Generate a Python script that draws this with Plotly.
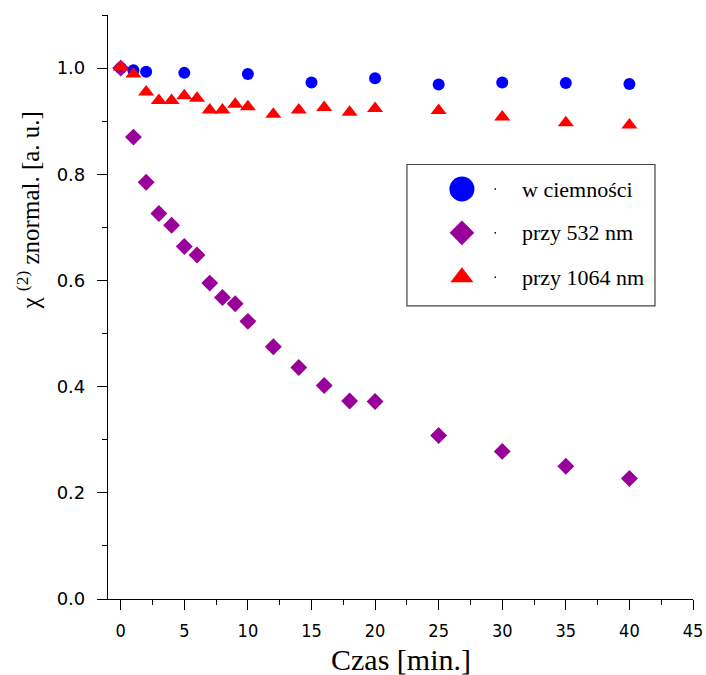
import plotly.graph_objects as go

# Czas pomiaru [min]
t_dark = [0, 1, 2, 5, 10, 15, 20, 25, 30, 35, 40]
chi_dark = [1.000, 0.996, 0.993, 0.991, 0.989, 0.973, 0.981, 0.969, 0.973, 0.972, 0.970]

t_532 = [0, 1, 2, 3, 4, 5, 6, 7, 8, 9, 10, 12, 14, 16, 18, 20, 25, 30, 35, 40]
chi_532 = [1.000, 0.870, 0.785, 0.726, 0.704, 0.664, 0.648, 0.595, 0.568, 0.556,
           0.523, 0.475, 0.436, 0.402, 0.373, 0.372, 0.308, 0.278, 0.250, 0.227]

t_1064 = [0, 1, 2, 3, 4, 5, 6, 7, 8, 9, 10, 12, 14, 16, 18, 20, 25, 30, 35, 40]
chi_1064 = [1.002, 0.989, 0.955, 0.939, 0.939, 0.948, 0.943, 0.921, 0.921, 0.932,
            0.927, 0.913, 0.921, 0.926, 0.917, 0.924, 0.920, 0.908, 0.897, 0.893]

labels = ["w ciemności", "przy 532 nm", "przy 1064 nm"]
colors = ["#0000FF", "#990099", "#FF0000"]
symbols = ["circle", "diamond", "triangle-up"]
data_sizes = [12, 13, 14]
key_sizes = [25, 19, 20]

x_ticks = [0, 5, 10, 15, 20, 25, 30, 35, 40, 45]
y_ticks = [0.0, 0.2, 0.4, 0.6, 0.8, 1.0]

x_title = "Czas [min.]"
y_title = "χ <sup>(2)</sup> znormal. [a. u.]"

serif = "Liberation Serif, Times New Roman, serif"

fig = go.Figure()

series = [(t_dark, chi_dark), (t_532, chi_532), (t_1064, chi_1064)]
for (xs, ys), name, col, sym, sz in zip(series, labels, colors, symbols, data_sizes):
    fig.add_trace(go.Scatter(
        x=xs, y=ys, mode="markers", name=name, showlegend=False,
        marker=dict(symbol=sym, size=sz, color=col, line=dict(width=0)),
    ))

# Legend key drawn on an overlay axis spanning the plot area (0..1 fractions)
key_x = 0.605
key_text_x = 0.705
key_y = [0.702, 0.627, 0.551]
for name, col, sym, sz, ky in zip(labels, colors, symbols, key_sizes, key_y):
    fig.add_trace(go.Scatter(
        x=[key_x], y=[ky], mode="markers", showlegend=False, hoverinfo="skip",
        marker=dict(symbol=sym, size=sz, color=col, line=dict(width=0)),
        xaxis="x2", yaxis="y2",
    ))
    fig.add_trace(go.Scatter(
        x=[0.662], y=[ky], mode="markers", showlegend=False, hoverinfo="skip",
        marker=dict(symbol="square", size=1.5, color="#000000", line=dict(width=0)),
        xaxis="x2", yaxis="y2",
    ))
    fig.add_annotation(
        x=key_text_x, y=ky, xref="x2", yref="y2", text=name, showarrow=False,
        xanchor="left", yanchor="middle",
        font=dict(family=serif, size=22, color="#000000"),
    )

fig.add_shape(
    type="rect", xref="x2", yref="y2", x0=0.511, x1=0.935, y0=0.502, y1=0.744,
    line=dict(color="#444444", width=1.2), fillcolor="rgba(0,0,0,0)", layer="above",
)

# Axis titles
fig.add_annotation(
    x=0.5, y=-0.104, xref="paper", yref="paper", text=x_title, showarrow=False,
    xanchor="center", yanchor="middle",
    font=dict(family=serif, size=30, color="#000000"),
)
fig.add_annotation(
    x=-0.137, y=0.665, xref="paper", yref="paper", text=y_title, showarrow=False,
    textangle=-90, xanchor="center", yanchor="middle",
    font=dict(family=serif, size=25, color="#000000"),
)

fig.update_layout(
    width=706, height=675,
    margin=dict(l=108, r=13, t=15, b=76, autoexpand=False),
    plot_bgcolor="white", paper_bgcolor="white",
    xaxis=dict(
        range=[-1, 45], tickvals=x_ticks, ticktext=[str(v) for v in x_ticks],
        automargin=False,
        showgrid=False, zeroline=False, showline=True, linecolor="#000000", linewidth=1.2,
        ticks="outside", ticklen=10, tickwidth=1.2, tickcolor="#000000",
        minor=dict(dtick=2.5, tick0=0, ticks="outside", ticklen=5, tickwidth=1.2, tickcolor="#000000"),
        tickfont=dict(family="DejaVu Sans Condensed, Liberation Sans Narrow, DejaVu Sans", size=18, color="#000000"),
        ticklabelstandoff=5, ticklabeloverflow="allow",
    ),
    yaxis=dict(
        range=[0, 1.1], tickvals=y_ticks, ticktext=[f"{v:.1f}" for v in y_ticks],
        automargin=False,
        showgrid=False, zeroline=False, showline=True, linecolor="#000000", linewidth=1.2,
        ticks="outside", ticklen=10, tickwidth=1.2, tickcolor="#000000",
        minor=dict(dtick=0.1, tick0=0, ticks="outside", ticklen=5, tickwidth=1.2, tickcolor="#000000"),
        tickfont=dict(family="DejaVu Sans, Verdana, sans-serif", size=18, color="#000000"),
        ticklabelstandoff=8,
    ),
    xaxis2=dict(range=[0, 1], overlaying="x", visible=False, fixedrange=True),
    yaxis2=dict(range=[0, 1], overlaying="y", visible=False, fixedrange=True),
    showlegend=False,
)

fig.write_html("out.html")
